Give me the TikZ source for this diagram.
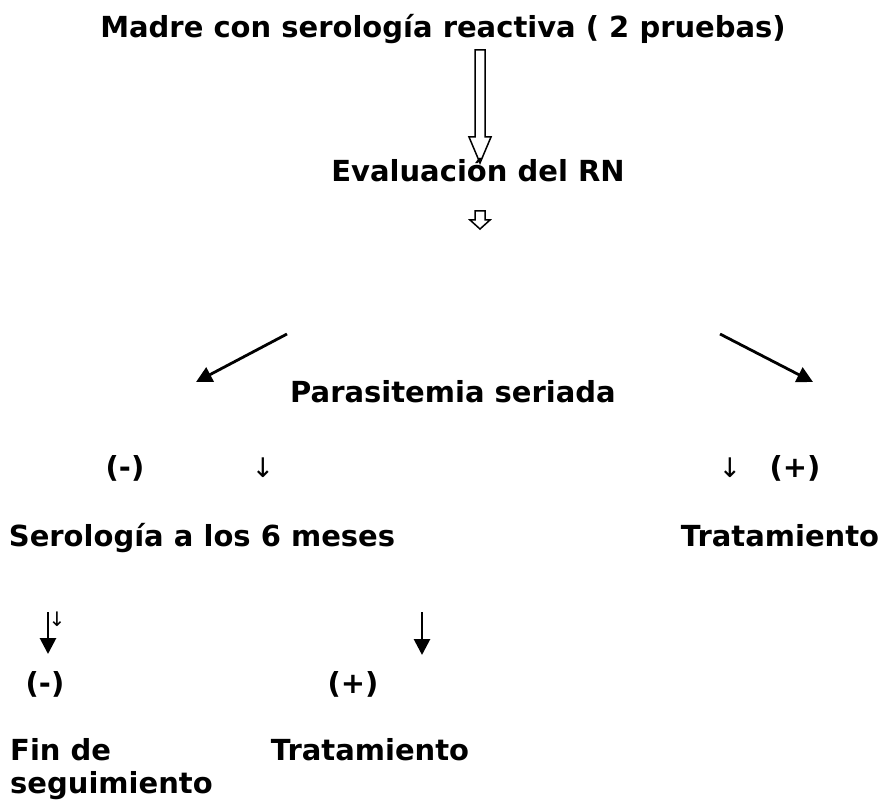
\documentclass[tikz,border=0pt]{standalone}
\usepackage{fontspec}
\setmainfont{DejaVu Sans}
\usetikzlibrary{arrows.meta}

\begin{document}
\begin{tikzpicture}[x=1pt,y=-1pt]
        \tikzstyle{every node}=[font=\fontsize{29}{33}\selectfont\bfseries,inner sep=0pt,anchor=base]
        \tikzstyle{thin}=[font=\fontsize{27}{30}\selectfont\mdseries]
        \tikzstyle{flecha}=[line width=2.8pt,-{Triangle[length=16pt,width=16pt]}]
        \tikzstyle{hueca}=[line width=1.5pt,line join=miter]
        \useasboundingbox (0,0) rectangle (883,802);
        % textos
        \node (madre) at (443,38) {Madre con serología reactiva ( 2 pruebas)};
        \node (eval) at (478,182) {Evaluación del RN};
        \node (para) at (453,402) {Parasitemia seriada};
        \node (negA) at (125,477) {(-)};
        \node[thin] (bajaA) at (263,477) {↓};
        \node[thin] (bajaB) at (730,477) {↓};
        \node (posA) at (795,477) {(+)};
        \node (sero) at (202,546) {Serología a los 6 meses};
        \node (trat) at (780,546) {Tratamiento};
        \node[thin,font=\fontsize{20}{22}\selectfont] (bajaC) at (57,626) {↓};
        \node (negB) at (45,693) {(-)};
        \node (posB) at (353,693) {(+)};
        \node[align=left,anchor=base west] (fin) at (10,793) {Fin de\\seguimiento};
        \node (tratB) at (370,760) {Tratamiento};
        % flechas
        \coordinate (i1) at (287,334); \coordinate (i2) at (196,382);
        \coordinate (d1) at (720,334); \coordinate (d2) at (813,382);
        \coordinate (s1) at (48,612);  \coordinate (s2) at (48,654);
        \coordinate (t1) at (422,612); \coordinate (t2) at (422,655);
        \draw[flecha] (i1) -- (i2);
        \draw[flecha] (d1) -- (d2);
        \draw[flecha] (s1) -- (s2);
        \draw[flecha] (t1) -- (t2);
        % flechas huecas
        \draw[hueca] (475,50) -- (485,50) -- (485,137) -- (491,137) -- (480,163) -- (469,137) -- (475,137) -- cycle;
        \draw[hueca] (475,211) -- (485,211) -- (485,220) -- (490,220) -- (480,229) -- (470,220) -- (475,220) -- cycle;
    \end{tikzpicture}
\end{document}
